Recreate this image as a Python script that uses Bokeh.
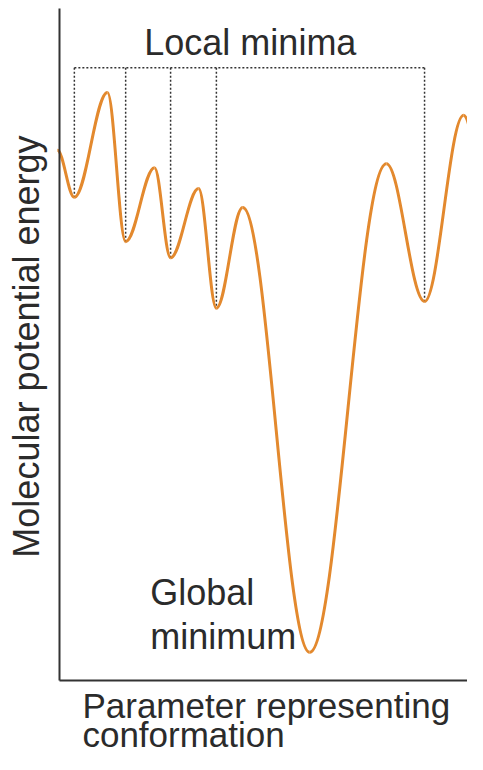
import numpy as np
from bokeh.plotting import figure
from bokeh.models import Range1d
from bokeh.core.properties import value
from bokeh.embed import file_html
from bokeh.resources import INLINE

# Energy landscape: successive extrema of the curve (conformation parameter, energy)
conf = [-0.5, 3.5, 11.3, 15.6, 22.4, 26.2, 32.8, 37.0, 43.2, 59.0, 77.1, 86.1, 95.3, 100.7]
energy = [78.9, 71.9, 87.5, 65.3, 76.3, 62.9, 73.2, 55.4, 70.4, 4.2, 76.9, 56.4, 84.1, 72.6]
local_min_idx = [1, 3, 5, 7, 11]
global_min_idx = 9
bracket_level = 91.2

x_label_lines = ["Parameter representing", "conformation"]
y_label = "Molecular potential energy"

FONT = value("Liberation Sans")
TXT = "#2b2b2b"
CURVE = "#E3892E"

# the whole canvas is the plotting frame; axes sit at the data origin
p = figure(width=467, height=754, output_backend="svg", toolbar_location=None,
           x_range=Range1d(-13.92, 96.23), y_range=Range1d(-11.01, 101.19),
           min_border_left=0, min_border_right=0, min_border_top=0, min_border_bottom=0)
p.grid.visible = False
p.outline_line_color = None
p.background_fill_color = "white"

for ax in (p.xaxis, p.yaxis):
    ax.ticker = []
    ax.fixed_location = 0
    ax.major_tick_line_color = None
    ax.minor_tick_line_color = None
    ax.major_tick_out = 0
    ax.minor_tick_out = 0
    ax.major_label_text_font_size = "0px"
    ax.axis_line_color = "#333333"
    ax.axis_line_width = 2
p.xaxis.bounds = (0, 100)
p.yaxis.bounds = (0, 100)

# axis captions
p.text(x=[-7.8], y=[49.7], text=[y_label], angle=np.pi / 2, text_font=FONT,
       text_font_size="36px", text_color=TXT, text_baseline="alphabetic", text_align="center")
p.text(x=[5.4, 5.4], y=[-3.72, -8.04], text=x_label_lines, text_font=FONT,
       text_font_size="35px", text_color=TXT, text_baseline="alphabetic", text_align="left")

# dotted bracket marking local minima
mx = [conf[i] for i in local_min_idx]
my = [energy[i] for i in local_min_idx]
p.segment(x0=mx, y0=[bracket_level] * len(mx), x1=mx, y1=my,
          line_color="#333333", line_width=1.5, line_dash="2 2")
p.segment(x0=[mx[0]], y0=[bracket_level], x1=[mx[-1]], y1=[bracket_level],
          line_color="#333333", line_width=1.5, line_dash="2 2")

# smooth curve through the extrema (horizontal tangents at each extremum)
xa = np.array(conf)
ya = np.array(energy)
k = 0.36
x0, x1 = xa[:-1], xa[1:]
y0, y1 = ya[:-1], ya[1:]
dx = x1 - x0
p.bezier(x0=x0, y0=y0, x1=x1, y1=y1,
         cx0=x0 + k * dx, cy0=y0, cx1=x1 - k * dx, cy1=y1,
         line_color=CURVE, line_width=3)

p.text(x=[20.0], y=[94.9], text=["Local minima"], text_font=FONT,
       text_font_size="36px", text_color=TXT, text_baseline="alphabetic", text_align="left")
p.text(x=[21.4, 21.4], y=[13.1, 6.55], text=["Global", "minimum"], text_font=FONT,
       text_font_size="36px", text_color=TXT, text_baseline="alphabetic", text_align="left")

open("out.html", "w").write(file_html(p, INLINE))
